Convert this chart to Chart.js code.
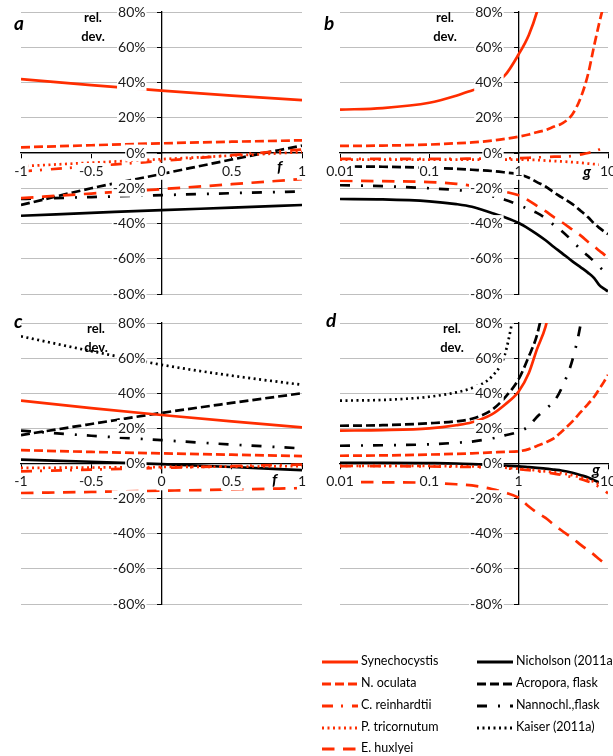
<!DOCTYPE html>
<html>
<head>
<meta charset="utf-8">
<script src="https://cdn.jsdelivr.net/npm/chart.js@4.4.1/dist/chart.umd.min.js"></script>
<style>
  html, body { margin: 0; padding: 0; background: #fff; }
  body { width: 613px; height: 756px; position: relative; overflow: hidden;
         font-family: Lato, "Liberation Sans", sans-serif; color: #000; }
  .panel { position: absolute; }
  .panel canvas { display: block; }
  .txt { position: absolute; white-space: nowrap; line-height: 1; }
  .letter { font-weight: bold; font-style: italic; font-size: 19px; }
  .reldev { font-weight: bold; font-size: 13px; line-height: 19px; text-align: center; }
  .axname { font-weight: bold; font-style: italic; font-size: 16px; }
  .legend { position: absolute; font-size: 12.5px; }
  .legend .row { position: absolute; height: 14px; white-space: nowrap; }
  .legend svg { position: absolute; left: 0; top: 0; }
  .legend span { position: absolute; top: -1px; line-height: 14px; }
</style>
</head>
<body>

<div class="panel" style="left:0;top:0"><canvas id="chA" width="306" height="310"></canvas></div>
<div class="panel" style="left:306px;top:0"><canvas id="chB" width="307" height="310"></canvas></div>
<div class="panel" style="left:0;top:310px"><canvas id="chC" width="306" height="310"></canvas></div>
<div class="panel" style="left:306px;top:310px"><canvas id="chD" width="307" height="310"></canvas></div>

<div class="txt letter" style="left:14px;top:13px">a</div>
<div class="txt letter" style="left:324px;top:13px">b</div>
<div class="txt letter" style="left:14px;top:311px">c</div>
<div class="txt letter" style="left:326px;top:310px">d</div>

<div class="txt reldev" style="left:73px;top:8px;width:40px">rel.<br>dev.</div>
<div class="txt reldev" style="left:425px;top:8px;width:40px">rel.<br>dev.</div>
<div class="txt reldev" style="left:76px;top:319px;width:40px">rel.<br>dev.</div>
<div class="txt reldev" style="left:432px;top:319px;width:40px">rel.<br>dev.</div>

<div class="txt axname" style="left:277px;top:158px">f</div>
<div class="txt axname" style="left:272px;top:471px">f</div>
<div class="txt axname" style="left:583px;top:163px">g</div>
<div class="txt axname" style="left:592px;top:461px">g</div>

<div class="legend" id="legend" style="left:0;top:0;width:613px;height:756px"></div>

<script>
// ---- x values ----
const fVals = [-1, -0.5, 0, 0.5, 1];
const gVals = [0.01, 0.03, 0.1, 0.2, 0.3, 0.5, 0.7, 1, 1.3, 1.6, 2, 2.5, 3, 4, 5, 6, 7, 8, 9, 10];

// ---- y axis / x axis tick labels ----
const relDevTicks = [-80, -60, -40, -20, 0, 20, 40, 60, 80];
const gTicks = [0.01, 0.1, 1, 10];
const fTicks = [-1, -0.5, 0, 0.5, 1];

// ---- panel a (relative deviation in %, versus f) ----
const aSynechocystis = [41.9, 38.5, 35.4, 32.6, 30.0];
const aNoculata      = [3.2, 4.4, 5.5, 6.4, 7.2];
const aCreinhardtii  = [-10.5, -7.5, -4.5, -1.2, 2.0];
const aPtricornutum  = [-7.5, -5.5, -3.5, -1.5, 0.5];
const aEhuxleyi      = [-25.6, -23.0, -20.5, -17.7, -14.8];
const aNicholson     = [-35.6, -34.0, -32.4, -31.0, -29.5];
const aAcropora      = [-29.5, -20.0, -11.9, -3.7, 4.2];
const aNannochl      = [-26.1, -25.0, -23.9, -22.8, -21.8];

// ---- panel b (versus g) ----
const bSynechocystis = [24.6, 25.5, 28.5, 32.5, 35.5, 39.5, 44, 56, 67, 80, 100, null, null, null, null, null, null, null, null, null];
const bNoculata      = [4.0, 4.2, 4.8, 5.5, 6.0, 7.0, 8.0, 9.3, 10.5, 11.8, 13, 15, 16.5, 22, 32, 45, 61, 74, 85, 98];
const bCreinhardtii  = [-3.3, -3.3, -3.3, -3.3, -3.2, -3.1, -3.0, -2.9, -2.7, -2.5, -2.3, -2.1, -2.0, -1.7, -0.8, 0, 0.8, 2.0, 3.0, 4.0];
const bPtricornutum  = [-3.8, -3.8, -3.8, -3.8, -3.8, -3.8, -3.8, -3.8, -3.9, -4.0, -4.3, -4.6, -4.8, -5.2, -5.6, -6.0, -6.3, -6.6, -6.9, -7.1];
const bEhuxleyi      = [-15.7, -16, -16.5, -17.5, -18.5, -20.5, -22, -24, -27, -30, -33, -36.5, -39, -43.5, -47, -50.5, -53, -55.5, -57.5, -59.6];
const bNicholson     = [-26.1, -26.3, -27.4, -29, -30.5, -34, -36.5, -39.7, -43, -46, -49.5, -53.5, -56.5, -61.5, -65, -68, -71, -75, -77, -78.5];
const bAcropora      = [-7.6, -7.8, -8.4, -9, -9.5, -10.2, -11, -12, -14, -16.5, -19, -22.5, -25, -29, -33, -36.5, -40, -42.5, -44.5, -46];
const bNannochl      = [-18.3, -18.8, -20, -21, -22, -24.5, -26.5, -29.5, -32, -34, -37, -41, -44, -50, -55, -58.5, -61.5, -64.5, -67, -69];

// ---- panel c (versus f) ----
const cSynechocystis = [35.8, 31.5, 27.6, 24.0, 20.6];
const cNoculata      = [7.6, 6.6, 5.8, 5.0, 4.2];
const cCreinhardtii  = [-4.5, -3.5, -2.5, -1.5, -0.6];
const cPtricornutum  = [-2.5, -2.3, -2.0, -1.8, -1.5];
const cEhuxleyi      = [-16.8, -16.2, -15.5, -14.8, -14.0];
const cNicholson     = [2.2, 1.0, -0.4, -2.0, -3.8];
const cAcropora      = [16.2, 22.5, 28.8, 34.5, 40.0];
const cNannochl      = [18.7, 15.8, 13.3, 10.8, 8.6];
const cKaiser        = [72.4, 64.0, 56.2, 50.0, 44.8];

// ---- panel d (versus g) ----
const dSynechocystis = [18.7, 19, 20, 21.8, 23.5, 28, 33.5, 41, 51.5, 65, 78, 100, null, null, null, null, null, null, null, null];
const dNoculata      = [4.4, 4.6, 5.1, 5.5, 5.8, 6.3, 6.6, 7, 8.2, 10, 12, 14.5, 18, 24, 29.5, 34, 38, 42.5, 46.5, 50.5];
const dCreinhardtii  = [-1.5, -1.5, -1.7, -1.9, -2.0, -2.3, -2.7, -3.3, -3.8, -4.4, -5.0, -5.8, -6.5, -7.8, -9.0, -10.3, -11.5, -13.5, -15.2, -17];
const dPtricornutum  = [-1.3, -1.3, -1.4, -1.6, -1.7, -2.0, -2.4, -3.0, -3.5, -4.0, -4.5, -5.0, -5.5, -6.7, -8.0, -9.2, -10.5, -12, -13.3, -14.5];
const dEhuxleyi      = [-10.5, -10.7, -11, -11.8, -12.5, -14.5, -16.5, -19.5, -24.5, -28, -31, -35, -38, -42.5, -46.5, -49.5, -52, -54.5, -56.5, -58];
const dNicholson     = [0.4, 0.4, 0.2, 0, -0.3, -0.8, -1.2, -1.6, -2.1, -2.5, -2.9, -3.5, -4.0, -5.3, -6.7, -8.0, -9.5, -10.8, -12.0, -13.3];
const dAcropora      = [21.5, 21.8, 22.9, 24, 25.5, 30.5, 37.5, 48, 61, 73, 95, null, null, null, null, null, null, null, null, null];
const dNannochl      = [10.1, 10.4, 10.9, 11.8, 12.5, 14.3, 16, 18.1, 21.3, 26.5, 31, 35.5, 42.5, 59, 81, 110, null, null, null, null];
const dKaiser        = [35.8, 36.2, 38, 40.5, 43, 49.5, 62, 100, null, null, null, null, null, null, null, null, null, null, null, null];

// ---- series names (legend order) ----
const seriesNames = ['Synechocystis', 'N. oculata', 'C. reinhardtii', 'P. tricornutum', 'E. huxlyei',
                     'Nicholson (2011a)', 'Acropora, flask', 'Nannochl.,flask', 'Kaiser (2011a)'];

// ---- line styles ----
const RED = '#ff2d00';
const BLACK = '#000000';
const styles = {
  'Synechocystis':     { color: RED,   dash: [] },
  'N. oculata':        { color: RED,   dash: [9, 4] },
  'C. reinhardtii':    { color: RED,   dash: [11, 8, 2, 9] },
  'P. tricornutum':    { color: RED,   dash: [2, 3.5] },
  'E. huxlyei':        { color: RED,   dash: [12.5, 8.5] },
  'Nicholson (2011a)': { color: BLACK, dash: [] },
  'Acropora, flask':   { color: BLACK, dash: [9, 4] },
  'Nannochl.,flask':   { color: BLACK, dash: [10, 11, 2, 10] },
  'Kaiser (2011a)':    { color: BLACK, dash: [2, 3.5] }
};
const LINE_W = 2.7;

function pairs(xs, ys) {
  return xs.map((x, i) => ({ x: x, y: ys[i] }));
}

function dataset(name, xs, ys) {
  const s = styles[name];
  return {
    label: name,
    data: pairs(xs, ys),
    borderColor: s.color,
    backgroundColor: s.color,
    borderWidth: LINE_W,
    borderDash: s.dash,
    pointRadius: 0,
    pointHoverRadius: 0,
    fill: false,
    cubicInterpolationMode: 'monotone',
    spanGaps: false
  };
}

const tickFont = { family: 'Lato', size: 14 };
const TICK_COLOR = '#1a1a1a';

// The crossing y axis puts its labels right at the axis line; move them left
// so there is a gap (with the black tick mark) between label and axis.
// The backdrop is positioned relative to the label, so it follows along.
const yLabelGap = {
  id: 'yLabelGap',
  beforeDraw(chart, args, opts) {
    const sc = chart.scales.y;
    const items = sc.getLabelItems(chart.chartArea);
    if (items._gapApplied) return;
    items.forEach(it => { it.options.translation[0] -= opts.dx; });
    items._gapApplied = true;
  }
};

function yScale(crossAt) {
  return {
    type: 'linear',
    min: -80, max: 80,
    position: { x: crossAt },
    afterBuildTicks: s => { s.ticks = relDevTicks.map(v => ({ value: v })); },
    afterFit: s => { s.width = 0; s.paddingTop = 0; s.paddingBottom = 0; s.paddingLeft = 0; s.paddingRight = 0; },
    grid: { color: '#bfbfbf', lineWidth: 1, tickColor: '#000', tickLength: 4, drawTicks: true, z: -1 },
    border: { display: true, color: '#000', width: 1.3, z: 0 },
    ticks: {
      font: tickFont, color: TICK_COLOR, padding: 0, z: 1,
      showLabelBackdrop: true, backdropColor: '#ffffff', backdropPadding: { x: 1, y: 0 },
      callback: v => v + '%'
    }
  };
}

function xScaleCommon(extra) {
  return Object.assign({
    position: { y: 0 },
    afterFit: s => { s.height = 0; s.paddingLeft = 0; s.paddingRight = 0; s.paddingTop = 0; s.paddingBottom = 0; },
    grid: { drawOnChartArea: false, drawTicks: true, tickColor: '#000', tickLength: 5 },
    border: { display: true, color: '#000', width: 1.3, z: 0 },
    ticks: {
      font: tickFont, color: TICK_COLOR, padding: 5, z: 1, maxRotation: 0, autoSkip: false,
      showLabelBackdrop: true, backdropColor: '#ffffff', backdropPadding: { x: 1, y: 0 },
      callback: v => String(v)
    }
  }, extra);
}

function xScaleF() {
  return xScaleCommon({
    type: 'linear', min: -1, max: 1,
    afterBuildTicks: s => { s.ticks = fTicks.map(v => ({ value: v })); }
  });
}

function xScaleG() {
  return xScaleCommon({
    type: 'logarithmic', min: 0.01, max: 10,
    afterBuildTicks: s => { s.ticks = gTicks.map(v => ({ value: v })); }
  });
}

function makeChart(id, datasets, xScale, yCross, pad) {
  return new Chart(document.getElementById(id), {
    type: 'line',
    data: { datasets: datasets },
    options: {
      responsive: false,
      animation: false,
      devicePixelRatio: 1,
      layout: { padding: pad },
      plugins: {
        legend: { display: false }, tooltip: { enabled: false }, title: { display: false },
        yLabelGap: { dx: 16 }
      },
      events: [],
      scales: { x: xScale, y: yScale(yCross) }
    },
    plugins: [yLabelGap]
  });
}

makeChart('chA', [
  dataset('Synechocystis', fVals, aSynechocystis),
  dataset('N. oculata', fVals, aNoculata),
  dataset('C. reinhardtii', fVals, aCreinhardtii),
  dataset('P. tricornutum', fVals, aPtricornutum),
  dataset('E. huxlyei', fVals, aEhuxleyi),
  dataset('Nicholson (2011a)', fVals, aNicholson),
  dataset('Acropora, flask', fVals, aAcropora),
  dataset('Nannochl.,flask', fVals, aNannochl)
], xScaleF(), 0, { left: 21, right: 4, top: 12, bottom: 16 });

makeChart('chB', [
  dataset('Synechocystis', gVals, bSynechocystis),
  dataset('N. oculata', gVals, bNoculata),
  dataset('C. reinhardtii', gVals, bCreinhardtii),
  dataset('P. tricornutum', gVals, bPtricornutum),
  dataset('E. huxlyei', gVals, bEhuxleyi),
  dataset('Nicholson (2011a)', gVals, bNicholson),
  dataset('Acropora, flask', gVals, bAcropora),
  dataset('Nannochl.,flask', gVals, bNannochl)
], xScaleG(), 1, { left: 34, right: 5, top: 12, bottom: 16 });

makeChart('chC', [
  dataset('Synechocystis', fVals, cSynechocystis),
  dataset('N. oculata', fVals, cNoculata),
  dataset('C. reinhardtii', fVals, cCreinhardtii),
  dataset('P. tricornutum', fVals, cPtricornutum),
  dataset('E. huxlyei', fVals, cEhuxleyi),
  dataset('Nicholson (2011a)', fVals, cNicholson),
  dataset('Acropora, flask', fVals, cAcropora),
  dataset('Nannochl.,flask', fVals, cNannochl),
  dataset('Kaiser (2011a)', fVals, cKaiser)
], xScaleF(), 0, { left: 21, right: 4, top: 13, bottom: 16 });

makeChart('chD', [
  dataset('Synechocystis', gVals, dSynechocystis),
  dataset('N. oculata', gVals, dNoculata),
  dataset('C. reinhardtii', gVals, dCreinhardtii),
  dataset('P. tricornutum', gVals, dPtricornutum),
  dataset('E. huxlyei', gVals, dEhuxleyi),
  dataset('Nicholson (2011a)', gVals, dNicholson),
  dataset('Acropora, flask', gVals, dAcropora),
  dataset('Nannochl.,flask', gVals, dNannochl),
  dataset('Kaiser (2011a)', gVals, dKaiser)
], xScaleG(), 1, { left: 34, right: 5, top: 13, bottom: 16 });

// ---- legend: two columns of line samples with names ----
(function buildLegend() {
  const box = document.getElementById('legend');
  const rowsY = [655, 677, 699, 720.5, 742];
  const cols = [{ x: 322, n: 5 }, { x: 477, n: 4 }];
  let k = 0;
  cols.forEach(col => {
    for (let r = 0; r < col.n; r++, k++) {
      const name = seriesNames[k];
      const st = styles[name];
      const row = document.createElement('div');
      row.className = 'row';
      row.style.left = col.x + 'px';
      row.style.top = rowsY[r] + 'px';
      const svgNS = 'http://www.w3.org/2000/svg';
      const svg = document.createElementNS(svgNS, 'svg');
      svg.setAttribute('width', '37');
      svg.setAttribute('height', '14');
      const ln = document.createElementNS(svgNS, 'line');
      ln.setAttribute('x1', '0'); ln.setAttribute('x2', '36');
      ln.setAttribute('y1', '7'); ln.setAttribute('y2', '7');
      ln.setAttribute('stroke', st.color);
      ln.setAttribute('stroke-width', '2.8');
      if (st.dash.length) ln.setAttribute('stroke-dasharray', st.dash.join(' '));
      svg.appendChild(ln);
      row.appendChild(svg);
      const sp = document.createElement('span');
      sp.style.left = '39px';
      sp.textContent = name;
      row.appendChild(sp);
      box.appendChild(row);
    }
  });
})();
</script>
</body>
</html>
